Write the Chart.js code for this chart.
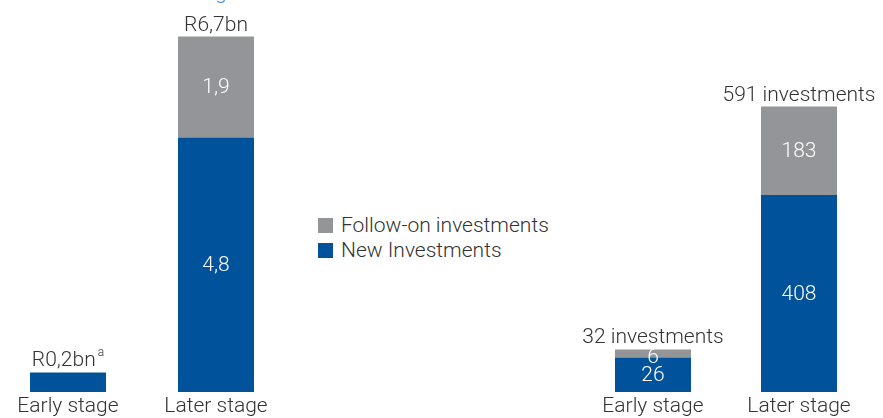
<!DOCTYPE html>
<html>
<head>
<meta charset="utf-8">
<script src="https://cdn.jsdelivr.net/npm/chart.js@4/dist/chart.umd.min.js"></script>
<style>
  body { margin: 0; width: 883px; height: 418px; overflow: hidden; background: #fff; position: relative; font-family: Roboto, sans-serif; font-weight: 300; }
  .box { position: absolute; top: 0; height: 430px; }
  #title { position: absolute; left: 78px; top: -20px; font-size: 21px; color: #4f90d6; white-space: nowrap; }
  #legend { position: absolute; left: 318px; top: 213px; font-size: 21px; color: #333; }
  #legend div { height: 25px; line-height: 25px; white-space: nowrap; }
  #legend span { display: inline-block; width: 15px; height: 15px; margin-right: 8px; vertical-align: -1px; }
</style>
</head>
<body>
<div id="title">Investment stage</div>
<div class="box" style="left:-6px;width:296px"><canvas id="valueChart"></canvas></div>
<div id="legend"></div>
<div class="box" style="left:580px;width:303px"><canvas id="countChart"></canvas></div>
<script>
const stages = ['Early stage', 'Later stage'];
const seriesNames = ['New Investments', 'Follow-on investments'];
const seriesColors = ['#00529b', '#939598'];

// value in R billion
const valueNew = [0.2, 4.8];
const valueFollowOn = [null, 1.9];
const valueTotals = ['R0,2bn', 'R6,7bn'];
const valueNotes = ['a', ''];

// number of investments
const countNew = [26, 408];
const countFollowOn = [6, 183];
const countTotals = ['32 investments', '591 investments'];

const FONT = 'Roboto';
const TEXT = '#333333';

function comma(v) {
  return String(v).replace('.', ',');
}

// early and later stage bars sit on their own value axes
function splitByStage(values, name, color) {
  return stages.map((s, i) => ({
    label: name,
    data: values.map((v, j) => (j === i ? v : null)),
    backgroundColor: color,
    yAxisID: i === 0 ? 'yEarly' : 'y',
  }));
}

const barLabels = {
  id: 'barLabels',
  afterDatasetsDraw(chart, args, opts) {
    const ctx = chart.ctx;
    const tops = {};
    ctx.save();
    ctx.font = '300 21px ' + FONT;
    ctx.textAlign = 'center';
    ctx.fillStyle = '#ffffff';
    chart.data.datasets.forEach((ds, d) => {
      chart.getDatasetMeta(d).data.forEach((bar, i) => {
        const v = ds.data[i];
        if (v === null || v === undefined) return;
        if (tops[i] === undefined || bar.y < tops[i].y) tops[i] = bar;
        if (!opts.inside[i]) return;
        const h = bar.base - bar.y;
        if (h >= 18) {
          ctx.textBaseline = 'middle';
          ctx.fillText(opts.format(v), bar.x, bar.y + h / 2 + 1);
        } else {
          // short segment: hang the figure from its top edge
          ctx.textBaseline = 'top';
          ctx.fillText(opts.format(v), bar.x, bar.y - 2);
        }
      });
    });
    ctx.fillStyle = TEXT;
    ctx.textBaseline = 'alphabetic';
    ctx.textAlign = 'left';
    Object.keys(tops).forEach((i) => {
      const bar = tops[i];
      const text = opts.totals[i];
      const note = opts.notes ? opts.notes[i] : '';
      ctx.font = '300 21px ' + FONT;
      const w = ctx.measureText(text).width;
      ctx.font = '300 12px ' + FONT;
      const nw = note ? ctx.measureText(note).width + 2 : 0;
      const left = bar.x - (w + nw) / 2;
      const y = bar.y - 6;
      ctx.font = '300 21px ' + FONT;
      ctx.fillText(text, left, y);
      if (note) {
        ctx.font = '300 12px ' + FONT;
        ctx.fillText(note, left + w + 2, y - 10);
      }
    });
    ctx.restore();
  },
};

function stageChart(id, datasets, yMax, earlyMax, barPct, padRight, labelOpts) {
  return new Chart(document.getElementById(id), {
    type: 'bar',
    data: { labels: stages, datasets: datasets },
    plugins: [barLabels],
    options: {
      responsive: true,
      maintainAspectRatio: false,
      animation: false,
      layout: { padding: { left: 0, top: 0, bottom: 0, right: padRight } },
      categoryPercentage: 1,
      barPercentage: barPct,
      scales: {
        x: {
          stacked: true,
          border: { display: false },
          grid: { display: false, drawTicks: false },
          ticks: { color: TEXT, padding: 2, font: { family: FONT, size: 21, weight: 300 } },
          afterFit(scale) {
            scale.height = 38;
          },
        },
        y: { stacked: true, display: false, min: 0, max: yMax },
        yEarly: { stacked: true, display: false, min: 0, max: earlyMax },
      },
      plugins: {
        legend: { display: false },
        tooltip: { enabled: false },
        barLabels: labelOpts,
      },
    },
  });
}

// the small early stage value bar is labelled only above
stageChart(
  'valueChart',
  [...splitByStage(valueNew, seriesNames[0], seriesColors[0]), ...splitByStage(valueFollowOn, seriesNames[1], seriesColors[1])],
  7.39,
  4.02,
  76 / 148,
  0,
  { inside: [false, true], format: comma, totals: valueTotals, notes: valueNotes }
);

stageChart(
  'countChart',
  [...splitByStage(countNew, seriesNames[0], seriesColors[0]), ...splitByStage(countFollowOn, seriesNames[1], seriesColors[1])],
  811.5,
  295,
  76 / 146,
  11,
  { inside: [true, true], format: (v) => String(v), totals: countTotals }
);

// legend lists follow-on first, as stacked
const legend = document.getElementById('legend');
[1, 0].forEach((k) => {
  const row = document.createElement('div');
  const sw = document.createElement('span');
  sw.style.background = seriesColors[k];
  row.appendChild(sw);
  row.appendChild(document.createTextNode(seriesNames[k]));
  legend.appendChild(row);
});
</script>
</body>
</html>
